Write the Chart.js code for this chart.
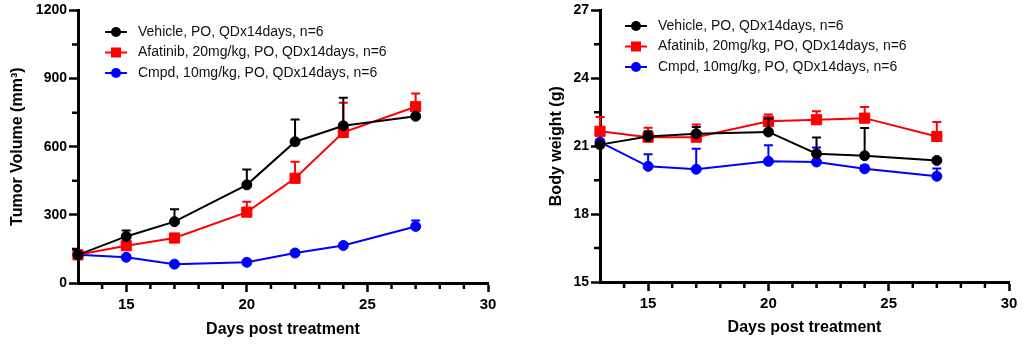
<!DOCTYPE html>
<html>
<head>
<meta charset="utf-8">
<script src="https://cdn.jsdelivr.net/npm/chart.js@4.4.0/dist/chart.umd.min.js"></script>
<style>
html,body{margin:0;padding:0;background:#fff;}
#wrap{position:relative;width:1024px;height:345px;}
canvas{position:absolute;top:0;}
#tumor{left:0;}
#weight{left:512px;}
</style>
</head>
<body>
<div id="wrap">
  <canvas id="tumor" width="512" height="345"></canvas>
  <canvas id="weight" width="512" height="345"></canvas>
</div>
<script>
const FONT="'Liberation Sans', Arial, sans-serif";

const DAYS=[13,15,17,20,22,24,27];
const GROUPS=[
  'Vehicle, PO, QDx14days, n=6',
  'Afatinib, 20mg/kg, PO, QDx14days, n=6',
  'Cmpd, 10mg/kg, PO, QDx14days, n=6'
];
const COLORS=['#000000','#ff0000','#0000ff'];
const STYLES=['circle','rect','circle'];

// tumor volume (mm3): mean and SEM per day
const TV_VEHICLE=[124,205,270,432,622,692,734];
const TV_VEHICLE_SEM=[8,26,55,68,98,124,8];
const TV_AFATINIB=[124,164,198,312,461,663,776];
const TV_AFATINIB_SEM=[8,10,12,46,73,130,58];
const TV_CMPD=[124,113,83,91,132,165,249];
const TV_CMPD_SEM=[6,8,6,8,10,10,26];

// body weight (g): mean and SEM per day
const BW_VEHICLE=[21.07,21.43,21.55,21.63,20.67,20.58,20.37];
const BW_VEHICLE_SEM=[0.1,0.23,0.3,0.59,0.71,1.22,0.1];
const BW_AFATINIB=[21.66,21.40,21.40,22.10,22.17,22.24,21.43];
const BW_AFATINIB_SEM=[0.63,0.42,0.56,0.3,0.37,0.49,0.64];
const BW_CMPD=[21.18,20.11,19.98,20.33,20.30,20.0,19.67];
const BW_CMPD_SEM=[0.1,0.53,0.91,0.71,0.64,0.15,0.35];

const X_TICKS=[15,20,25,30];
const X_MINOR=[14,16,17,18,19,21,22,23,24,26,27,28,29];
const TV_TICKS=[0,300,600,900,1200];
const TV_MINOR=[150,450,750,1050];
const BW_TICKS=[15,18,21,24,27];
const BW_MINOR=[16.5,19.5,22.5,25.5];

// upward-only SEM whiskers with a cap, drawn just before each dataset
const errorBars={
  id:'errorBars',
  beforeDatasetDraw(chart,args){
    const ds=chart.data.datasets[args.index];
    if(!ds.sem) return;
    const xs=chart.scales.x, ys=chart.scales.y, ctx=chart.ctx;
    ctx.save();
    ctx.strokeStyle=ds.borderColor; ctx.lineWidth=2;
    ctx.beginPath();
    ds.data.forEach((p,i)=>{
      const px=xs.getPixelForValue(p.x);
      const y0=ys.getPixelForValue(p.y), y1=ys.getPixelForValue(p.y+ds.sem[i]);
      ctx.moveTo(px,y0); ctx.lineTo(px,y1);
      ctx.moveTo(px-4.5,y1); ctx.lineTo(px+4.5,y1);
    });
    ctx.stroke();
    ctx.restore();
  }
};

// short unlabeled ticks between the major ones
const minorTicks={
  id:'minorTicks',
  afterDraw(chart,args,opts){
    const ctx=chart.ctx, a=chart.chartArea, xs=chart.scales.x, ys=chart.scales.y;
    ctx.save();
    ctx.strokeStyle='#000'; ctx.lineWidth=2.5;
    ctx.beginPath();
    (opts.x||[]).forEach(v=>{ const px=xs.getPixelForValue(v); ctx.moveTo(px,a.bottom); ctx.lineTo(px,a.bottom+6); });
    (opts.y||[]).forEach(v=>{ const py=ys.getPixelForValue(v); ctx.moveTo(a.left,py); ctx.lineTo(a.left-6,py); });
    ctx.stroke();
    ctx.restore();
  }
};

// legend inside the plot: line + marker + label
const insetLegend={
  id:'insetLegend',
  afterDraw(chart,args,opts){
    const ctx=chart.ctx;
    ctx.save();
    chart.data.datasets.forEach((ds,i)=>{
      const x=opts.left, y=opts.top+i*opts.gap;
      ctx.strokeStyle=ds.borderColor; ctx.lineWidth=2;
      ctx.beginPath(); ctx.moveTo(x,y); ctx.lineTo(x+22,y); ctx.stroke();
      ctx.fillStyle=ds.borderColor;
      if(ds.pointStyle==='rect') ctx.fillRect(x+11-5,y-5,10,10);
      else { ctx.beginPath(); ctx.arc(x+11,y,5,0,Math.PI*2); ctx.fill(); }
      ctx.fillStyle='#111';
      ctx.font='14px '+FONT;
      ctx.textBaseline='middle';
      ctx.fillText(ds.label,x+33,y);
    });
    ctx.restore();
  }
};

function series(values,sem,i){
  return {
    label:GROUPS[i],
    data:DAYS.map((d,k)=>({x:d,y:values[k]})),
    sem:sem,
    borderColor:COLORS[i],
    backgroundColor:COLORS[i],
    pointStyle:STYLES[i],
    pointRadius:STYLES[i]==='rect'?7.2:5,
    pointBorderWidth:1,
    borderWidth:2,
    tension:0,
    clip:false
  };
}

function build(id,datasets,o){
  return new Chart(document.getElementById(id),{
    type:'line',
    data:{datasets},
    options:{
      responsive:false,
      animation:false,
      events:[],
      layout:{padding:{top:10,right:o.right,bottom:0,left:0}},
      plugins:{
        legend:{display:false},
        tooltip:{enabled:false},
        minorTicks:{x:X_MINOR,y:o.minor},
        insetLegend:o.legend
      },
      scales:{
        x:{
          type:'linear', min:13, max:30,
          afterBuildTicks:s=>{ s.ticks=X_TICKS.map(v=>({value:v})); },
          afterFit:s=>{ s.height=o.xHeight; },
          grid:{display:true,drawOnChartArea:false,drawTicks:true,tickLength:9,tickWidth:2.5,tickColor:'#000'},
          border:{display:true,color:'#000',width:3},
          ticks:{color:'#000',font:{family:FONT,size:15,weight:'bold'},padding:o.xPad,maxRotation:0,autoSkip:false,callback:v=>String(v)},
          title:{display:true,text:'Days post treatment',color:'#000',font:{family:FONT,size:16,weight:'bold'},padding:{top:0,bottom:o.xTitlePad}}
        },
        y:{
          type:'linear', min:o.min, max:o.max,
          afterBuildTicks:s=>{ s.ticks=o.ticks.map(v=>({value:v})); },
          afterFit:s=>{ s.width=o.yWidth; },
          grid:{display:true,drawOnChartArea:false,drawTicks:true,tickLength:9,tickWidth:2.5,tickColor:'#000'},
          border:{display:true,color:'#000',width:3},
          ticks:{color:'#000',font:{family:FONT,size:14,weight:'bold'},padding:o.yPad,autoSkip:false,callback:v=>String(v)},
          title:{display:true,text:o.title,color:'#000',font:{family:FONT,size:16,weight:'bold'},padding:{top:o.yTitlePad,bottom:0}}
        }
      }
    },
    plugins:[errorBars,minorTicks,insetLegend]
  });
}

build('tumor',[
  series(TV_VEHICLE,TV_VEHICLE_SEM,0),
  series(TV_AFATINIB,TV_AFATINIB_SEM,1),
  series(TV_CMPD,TV_CMPD_SEM,2)
],{
  min:0,max:1200,ticks:TV_TICKS,minor:TV_MINOR,title:'Tumor Volume (mm\u00B3)',
  right:24,xHeight:62,yWidth:78,xPad:3.5,yPad:2,xTitlePad:5.4,yTitlePad:8.4,
  legend:{left:105,top:32,gap:20.5}
});

build('weight',[
  series(BW_VEHICLE,BW_VEHICLE_SEM,0),
  series(BW_AFATINIB,BW_AFATINIB_SEM,1),
  series(BW_CMPD,BW_CMPD_SEM,2)
],{
  min:15,max:27,ticks:BW_TICKS,minor:BW_MINOR,title:'Body weight (g)',
  right:15,xHeight:63,yWidth:88,xPad:3.5,yPad:2,xTitlePad:7.4,yTitlePad:35.4,
  legend:{left:113,top:26,gap:20.5}
});
</script>
</body>
</html>
